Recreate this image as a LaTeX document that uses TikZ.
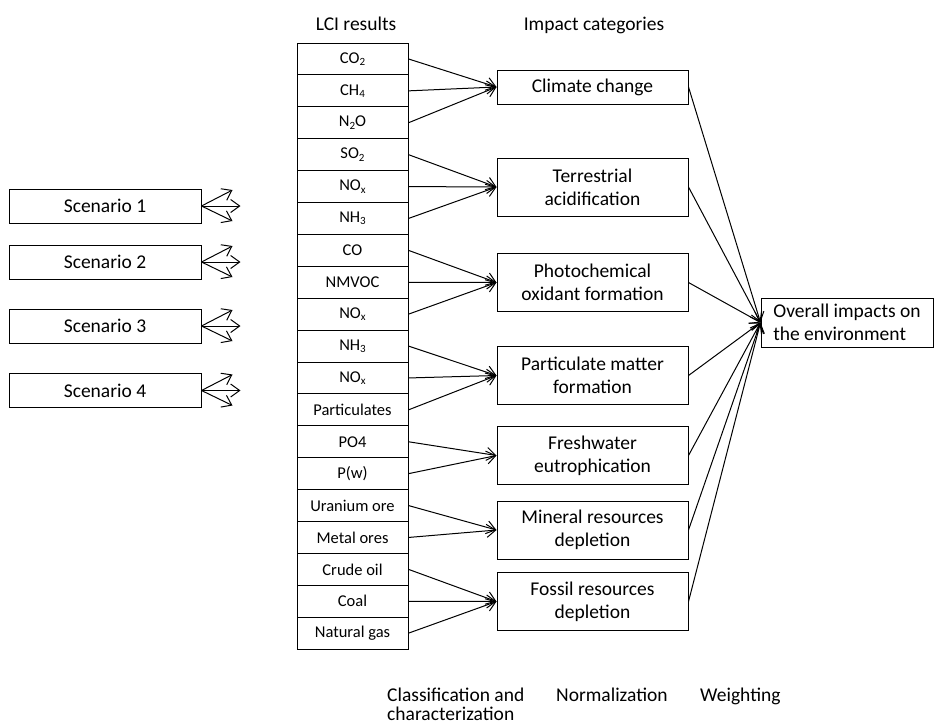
\documentclass[tikz,border=0pt]{standalone}
\usepackage{fontspec}
\setmainfont{Carlito}
\usetikzlibrary{arrows.meta,calc}
\newcommand{\lowidx}[1]{\raisebox{-0.3ex}{\fontsize{11}{11}\selectfont #1}}

\begin{document}
\begin{tikzpicture}[x=1pt,y=-1pt,
  every node/.style={font=\fontsize{19.5}{23}\selectfont},
  box/.style={draw=black,line width=1pt,inner sep=0pt},
  scen/.style={box,minimum width=192,minimum height=34},
  lci/.style={box,minimum width=111,minimum height=31.9,font=\fontsize{16.5}{19}\selectfont},
  impact/.style={box,minimum width=191,minimum height=58,align=center},
  link/.style={line width=1pt,-{Straight Barb[length=9pt,width=13pt,line width=1pt]}},
  lbl/.style={inner sep=0pt}]

\useasboundingbox (0,0) rectangle (934,724);

% scenarios with their fan of arrows
\foreach \i/\y in {1/206,2/262,3/326,4/390.5}{
  \node[scen] (s\i) at (105,\y) {Scenario \i};
  \coordinate (s\i u) at ($(s\i.east)+(31,-16)$);
  \coordinate (s\i m) at ($(s\i.east)+(39,0)$);
  \coordinate (s\i d) at ($(s\i.east)+(31,15)$);
  \draw[link] (s\i.east) -- (s\i u);
  \draw[link] (s\i.east) -- (s\i m);
  \draw[link] (s\i.east) -- (s\i d);
}

% column headers
\node[lbl] (hlci) at (356,24) {LCI results};
\node[lbl] (himp) at (594,25) {Impact categories};

% LCI result rows
\foreach \k/\t in {1/CO\lowidx{2},2/CH\lowidx{4},3/N\lowidx{2}O,
  4/SO\lowidx{2},5/NO\lowidx{x},6/NH\lowidx{3},7/CO,8/NMVOC,
  9/NO\lowidx{x},10/NH\lowidx{3},11/NO\lowidx{x},12/Particulates,
  13/PO4,14/P(w),15/Uranium ore,16/Metal ores,17/Crude oil,18/Coal,19/Natural gas}{
  \node[lci] (r\k) at (352.5,{43+(\k-0.5)*31.9}) {\t};
}

% impact categories
\node[impact,minimum height=34] (cc) at (592.5,87) {Climate change};
\node[impact] (ta) at (592.5,187) {Terrestrial\\acidification};
\node[impact] (po) at (592.5,282.5) {Photochemical\\oxidant formation};
\node[impact] (pm) at (592.5,375.5) {Particulate matter\\formation};
\node[impact] (fe) at (592.5,455.5) {Freshwater\\eutrophication};
\node[impact] (mr) at (592.5,530) {Mineral resources\\depletion};
\node[impact] (fr) at (592.5,601.5) {Fossil resources\\depletion};

% overall result
\node[box,minimum width=172,minimum height=49,align=left]
  (ov) at (847,322.5) {Overall impacts on\\the environment};

% classification arrows
\foreach \s/\d in {r1/cc,r2/cc,r3/cc,r4/ta,r5/ta,r6/ta,r7/po,r8/po,r9/po,
  r10/pm,r11/pm,r12/pm,r13/fe,r14/fe,r15/mr,r16/mr,r17/fr,r18/fr,r19/fr}{
  \draw[link] (\s.east) -- (\d.west);
}

% weighting arrows
\foreach \s in {cc,ta,po,pm,fe,mr,fr}{
  \draw[link] (\s.east) -- (ov.west);
}

% step labels
\node[lbl,anchor=north west,align=left,font=\fontsize{19.5}{18.5}\selectfont]
  (stc) at (387,688) {Classification and\\characterization};
\node[lbl,anchor=base west] (stn) at (556,701) {Normalization};
\node[lbl,anchor=base west] (stw) at (700,701) {Weighting};

\end{tikzpicture}
\end{document}
